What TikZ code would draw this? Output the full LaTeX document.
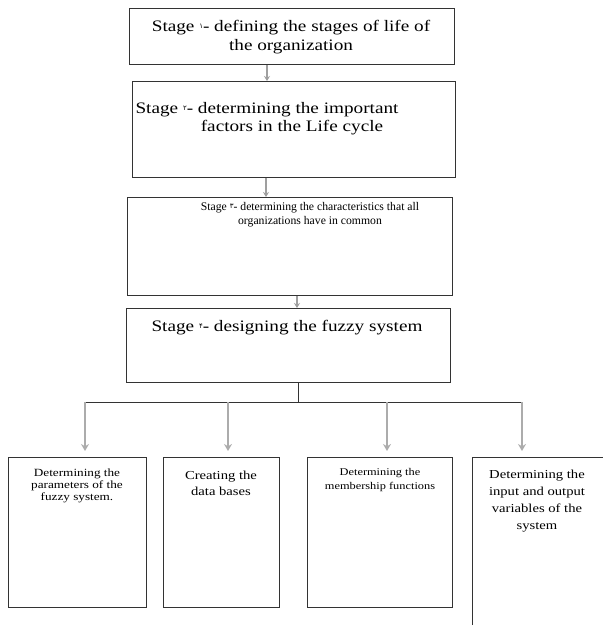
\documentclass[tikz,border=0pt]{standalone}
\usepackage{fontspec}
\setmainfont{Liberation Serif}
\newfontfamily\widefont[FakeStretch=1.2]{Liberation Serif}
\newfontfamily\digitfont{DejaVu Sans}
\usetikzlibrary{arrows.meta}
% small raised Persian stage number
\newcommand\stagenum[1]{\raisebox{0.45ex}{\digitfont\fontsize{7}{7}\selectfont #1}}
\begin{document}
\begin{tikzpicture}[x=1pt,y=-1pt,
  stagebox/.style={draw=black!80, line width=0.9pt, inner sep=0pt, anchor=north west},
  link/.style={draw=black!80, line width=0.9pt},
  stepflow/.style={draw=gray!75, line width=1.6pt, -{Stealth[length=5pt,width=6pt]}},
  branch/.style={draw=gray!65, line width=2.2pt, -{Stealth[length=7pt,width=8pt]}, shorten >=6pt},
  bigtext/.style={font=\widefont\fontsize{16}{19}\selectfont, align=center, inner sep=0pt},
]
\useasboundingbox (0,0) rectangle (603,627);

% stage boxes
\node[stagebox, minimum width=325pt, minimum height=56pt] (s1) at (129,8) {};
\node[stagebox, minimum width=323pt, minimum height=96pt] (s2) at (132,81) {};
\node[stagebox, minimum width=325pt, minimum height=98pt] (s3) at (127,197) {};
\node[stagebox, minimum width=324pt, minimum height=74pt] (s4) at (126,308) {};

% stage texts
\node[bigtext] (t1) at (291,37.5) {Stage \stagenum{۱}- defining the stages of life of\\the organization};
\node[bigtext] (t2a) at (267,110) {Stage \stagenum{۲}- determining the important};
\node[bigtext] (t2b) at (292,128) {factors in the Life cycle};
\node[font=\fontsize{11.7}{14}\selectfont, align=center, inner sep=0pt] (t3) at (310,215)
  {Stage \stagenum{۳}- determining the characteristics that all\\organizations have in common};
\node[bigtext] (t4) at (287,328) {Stage \stagenum{۴}- designing the fuzzy system};

% arrows between stages
\draw[stepflow] ([xshift=138pt]s1.south west) -- ([xshift=135pt]s2.north west);
\draw[stepflow] ([xshift=134pt]s2.south west) -- ([xshift=139pt]s3.north west);
\draw[stepflow] ([xshift=170pt]s3.south west) -- ([xshift=171pt]s4.north west);

% lower boxes
\node[stagebox, minimum width=138pt, minimum height=150pt] (bA) at (8,457) {};
\node[stagebox, minimum width=116pt, minimum height=150pt] (bB) at (163,457) {};
\node[stagebox, minimum width=145pt, minimum height=150pt] (bC) at (307,457) {};
\draw[link] (472,625) -- (472,457) -- (603,457);
\coordinate (dtop) at (522,457);

\node[font=\widefont\fontsize{11}{12}\selectfont, align=center, inner sep=0pt] (tA) at (77,486)
  {Determining the\\parameters of the\\fuzzy system.};
\node[font=\widefont\fontsize{12.2}{16.5}\selectfont, align=center, inner sep=0pt] (tB) at (221,483.5)
  {Creating the\\data bases};
\node[font=\widefont\fontsize{10.3}{14}\selectfont, align=center, inner sep=0pt] (tC) at (380,480)
  {Determining the\\membership functions};
\node[font=\widefont\fontsize{12.2}{17}\selectfont, align=center, inner sep=0pt] (tD) at (537,501)
  {Determining the\\input and output\\variables of the\\system};

% branching connector
\coordinate (hub) at (298,402);
\coordinate (ja) at (85,402);
\coordinate (jb) at (228,402);
\coordinate (jc) at (387,402);
\coordinate (jd) at (522,402);
\draw[link] (s4.south -| hub) -- (hub);
\draw[link] (ja) -- (jd);
\draw[branch] (ja) -- (ja |- bA.north);
\draw[branch] (jb) -- (jb |- bB.north);
\draw[branch] (jc) -- (jc |- bC.north);
\draw[branch] (jd) -- (dtop);
\end{tikzpicture}
\end{document}
